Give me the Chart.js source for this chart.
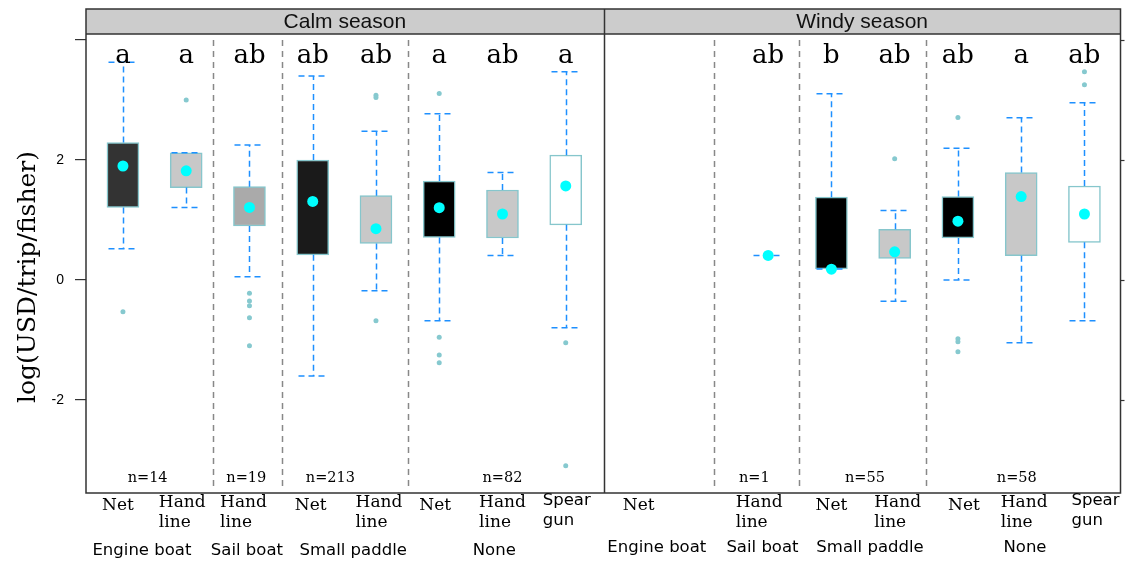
<!DOCTYPE html>
<html><head><meta charset="utf-8">
<script src="https://cdn.jsdelivr.net/npm/chart.js@4.4.1/dist/chart.umd.min.js"></script>
<style>html,body{margin:0;padding:0;background:#fff;}#wrap{width:1126px;height:562px;position:relative;}</style>
</head><body><div id="wrap"><canvas id="c" width="1126" height="562"></canvas></div>
<script>
// ---------- data ----------
const seasons = ['Calm season', 'Windy season'];
const calmGear  = ['Net','Hand\nline','Hand\nline','Net','Hand\nline','Net','Hand\nline','Spear\ngun'];
const windyGear = ['Net','','Hand\nline','Net','Hand\nline','Net','Hand\nline','Spear\ngun'];
const boatGroups = ['Engine boat','Sail boat','Small paddle','None'];
const calmLetters  = ['a','a','ab','ab','ab','a','ab','a'];
const windyLetters = ['','','ab','b','ab','ab','a','ab'];
const calmN  = ['n=14','n=19','n=213','n=82'];
const windyN = ['n=1','n=55','n=58'];

const calmQ1   = [1.21, 1.54, 0.90, 0.42, 0.61, 0.71, 0.70, 0.92];
const calmQ3   = [2.29, 2.12, 1.555, 2.00, 1.405, 1.65, 1.50, 2.08];
const calmLo   = [0.52, 1.21, 0.055, -1.60, -0.18, -0.68, 0.41, -0.795];
const calmHi   = [3.63, 2.12, 2.25, 3.40, 2.48, 2.77, 1.79, 3.47];
const calmMean = [1.90, 1.82, 1.21, 1.31, 0.855, 1.205, 1.10, 1.567];
const calmOut  = [[-0.53],[3.0],[-0.22,-0.35,-0.43,-0.63,-1.095],[],[3.04,3.08,-0.68],[3.11,-0.955,-1.25,-1.38],[],[-1.045,-3.095]];

const windyQ1   = [null, null, 0.41, 0.183, 0.36, 0.70, 0.405, 0.628];
const windyQ3   = [null, null, 0.41, 1.38, 0.845, 1.39, 1.79, 1.567];
const windyLo   = [null, null, 0.41, 0.183, -0.355, 0.0, -1.045, -0.68];
const windyHi   = [null, null, 0.41, 3.105, 1.16, 2.195, 2.705, 2.955];
const windyMean = [null, null, 0.41, 0.18, 0.47, 0.98, 1.39, 1.10];
const windyOut  = [[],[],[],[],[2.02],[2.71,-0.98,-1.03,-1.195],[],[3.47,3.255]];

const yTickValues = [-2, 0, 2, 4];
const yTickLabels = ['-2', '0', '2', ''];
const yTitle = 'log(USD/trip/fisher)';

// ---------- layout / style ----------
const calmFill  = ['#333333','#c8c8c8','#aaaaaa','#1a1a1a','#c8c8c8','#000000','#c8c8c8','#ffffff'];
const windyFill = [null,null,'#c8c8c8','#000000','#c8c8c8','#000000','#c8c8c8','#ffffff'];
const WINDY_SHIFT = 8.2, X_MIN = -0.584, X_MAX = 15.77, PANEL_SPLIT = 7.6;
const STRIP_TOP = 9;
const dividerPos = [[1.42, 2.52, 4.5], [1.14, 2.49, 4.5]];
const nPos = [[0.39, 1.95, 3.28, 6.0], [1.78, 3.53, 5.93]];
const groupPos = [[0.3, 1.96, 3.64, 5.87], [0.24, 1.91, 3.61, 6.06]];
const groupY = [551, 548];
const gearNudge = [[-5,-4,-6,-2,3,-4,0,1], [-3,0,-9,0,3,6,3,11]];

const panels = [
  {shift:0, q1:calmQ1, q3:calmQ3, lo:calmLo, hi:calmHi, mean:calmMean, out:calmOut, fill:calmFill, gear:calmGear, letters:calmLetters, n:calmN},
  {shift:WINDY_SHIFT, q1:windyQ1, q3:windyQ3, lo:windyLo, hi:windyHi, mean:windyMean, out:windyOut, fill:windyFill, gear:windyGear, letters:windyLetters, n:windyN}
];

const boxData = [], boxColors = [], meanData = [], outData = [];
panels.forEach(p => {
  p.q1.forEach((v, i) => {
    if (v === null) return;
    const x = i + p.shift;
    boxData.push({x: x, y: [p.q1[i], p.q3[i]]});
    boxColors.push(p.fill[i]);
    meanData.push({x: x, y: p.mean[i]});
  });
  p.out.forEach((arr, i) => arr.forEach(v => outData.push({x: i + p.shift, y: v})));
});

const SERIF = '"DejaVu Serif", serif';
const SANS = '"DejaVu Sans", sans-serif';

const boxPlugin = {
  id: 'boxplotDecor',
  beforeDatasetsDraw(chart) {
    const {ctx, chartArea: a, scales: {x}} = chart;
    ctx.save();
    ctx.fillStyle = '#cccccc';
    ctx.fillRect(a.left, STRIP_TOP, a.right - a.left, a.top - STRIP_TOP);
    ctx.fillStyle = '#111';
    ctx.font = '21px "Liberation Sans", Arial, sans-serif';
    ctx.textAlign = 'center'; ctx.textBaseline = 'middle';
    const split = x.getPixelForValue(PANEL_SPLIT);
    ctx.fillText(seasons[0], (a.left + split) / 2, (STRIP_TOP + a.top) / 2 + 1);
    ctx.fillText(seasons[1], (split + a.right) / 2, (STRIP_TOP + a.top) / 2 + 1);
    ctx.strokeStyle = '#888'; ctx.lineWidth = 1.5; ctx.setLineDash([6, 5]);
    panels.forEach((p, k) => dividerPos[k].forEach(d => {
      const px = Math.round(x.getPixelForValue(d + p.shift)) + 0.5;
      ctx.beginPath(); ctx.moveTo(px, a.top + 6); ctx.lineTo(px, a.bottom - 2); ctx.stroke();
    }));
    ctx.restore();
  },
  afterDatasetDraw(chart, args) {
    if (args.index !== 0) return;
    const {ctx, scales: {x, y}} = chart;
    ctx.save();
    ctx.strokeStyle = '#1e90ff'; ctx.lineWidth = 1.5; ctx.setLineDash([6, 4]);
    panels.forEach(p => p.lo.forEach((lo, i) => {
      if (lo === null) return;
      const px = Math.round(x.getPixelForValue(i + p.shift)) + 0.5;
      const yq1 = y.getPixelForValue(p.q1[i]), yq3 = y.getPixelForValue(p.q3[i]);
      const ylo = y.getPixelForValue(lo), yhi = y.getPixelForValue(p.hi[i]);
      ctx.beginPath();
      if (p.hi[i] > p.q3[i]) { ctx.moveTo(px, yq3); ctx.lineTo(px, yhi); }
      if (lo < p.q1[i]) { ctx.moveTo(px, yq1); ctx.lineTo(px, ylo); }
      ctx.stroke();
      ctx.beginPath();
      ctx.moveTo(px - 15, yhi); ctx.lineTo(px + 15, yhi);
      ctx.moveTo(px - 15, ylo); ctx.lineTo(px + 15, ylo);
      ctx.stroke();
    }));
    ctx.restore();
  },
  afterDraw(chart) {
    const {ctx, chartArea: a, scales: {x, y}} = chart;
    ctx.save();
    ctx.strokeStyle = '#333'; ctx.lineWidth = 1.5; ctx.setLineDash([]);
    const split = Math.round(x.getPixelForValue(PANEL_SPLIT)) + 0.5;
    ctx.strokeRect(a.left, STRIP_TOP, a.right - a.left, a.bottom - STRIP_TOP);
    ctx.beginPath();
    ctx.moveTo(a.left, a.top); ctx.lineTo(a.right, a.top);
    ctx.moveTo(split, STRIP_TOP); ctx.lineTo(split, a.bottom);
    ctx.stroke();
    ctx.lineWidth = 1.2;
    yTickValues.forEach(v => {
      const py = Math.round(y.getPixelForValue(v)) + 0.5;
      ctx.beginPath(); ctx.moveTo(a.right, py); ctx.lineTo(a.right + 4, py); ctx.stroke();
    });
    ctx.fillStyle = '#000';
    ctx.font = '26px ' + SERIF; ctx.textAlign = 'center'; ctx.textBaseline = 'alphabetic';
    panels.forEach(p => p.letters.forEach((t, i) => {
      if (t) ctx.fillText(t, x.getPixelForValue(i + p.shift), 63);
    }));
    ctx.font = '14.5px ' + SERIF; ctx.textBaseline = 'middle';
    panels.forEach((p, k) => p.n.forEach((t, j) => {
      ctx.fillText(t, x.getPixelForValue(nPos[k][j] + p.shift), 478);
    }));
    panels.forEach((p, k) => p.gear.forEach((t, i) => {
      if (!t) return;
      const lines = t.split('\n');
      const sans = t.indexOf('Spear') === 0;
      ctx.font = sans ? '16.5px ' + SANS : '17px ' + SERIF;
      const cx = x.getPixelForValue(i + p.shift) + gearNudge[k][i];
      if (lines.length === 1) {
        ctx.textAlign = 'center';
        ctx.fillText(lines[0], cx, 506);
      } else {
        const w = Math.max(...lines.map(l => ctx.measureText(l).width));
        ctx.textAlign = 'left';
        const y0 = sans ? 501 : 503;
        lines.forEach((l, j) => ctx.fillText(l, cx - w / 2, y0 + j * 20));
      }
    }));
    ctx.font = '16.5px ' + SANS; ctx.textAlign = 'center';
    panels.forEach((p, k) => boatGroups.forEach((g, j) => {
      ctx.fillText(g, x.getPixelForValue(groupPos[k][j] + p.shift), groupY[k]);
    }));
    ctx.translate(28, 277); ctx.rotate(-Math.PI / 2);
    ctx.font = '25px ' + SERIF; ctx.textAlign = 'center'; ctx.textBaseline = 'middle';
    ctx.fillText(yTitle, 0, 0);
    ctx.restore();
  }
};

new Chart(document.getElementById('c'), {
  type: 'bar',
  data: {
    datasets: [
      {type: 'bar', data: boxData, backgroundColor: boxColors, borderColor: '#86c6cc', borderWidth: 1.5,
       borderSkipped: false, barThickness: 32, grouped: false, order: 3},
      {type: 'scatter', data: outData, pointRadius: 2.5, pointBackgroundColor: '#86c9cf', pointBorderWidth: 0, order: 2},
      {type: 'scatter', data: meanData, pointRadius: 5.5, pointBackgroundColor: '#00ffff', pointBorderWidth: 0, order: 1}
    ]
  },
  options: {
    responsive: false, animation: false,
    layout: {padding: {top: 34, bottom: 69, right: 3, left: 0}},
    plugins: {legend: {display: false}, tooltip: {enabled: false}},
    scales: {
      x: {type: 'linear', min: X_MIN, max: X_MAX, offset: false, grid: {offset: false}, display: false},
      y: {
        type: 'linear', min: -3.55, max: 4.1,
        afterFit(s) { s.width = 86; },
        afterBuildTicks(s) { s.ticks = yTickValues.map(v => ({value: v})); },
        border: {display: false},
        grid: {drawOnChartArea: false, drawTicks: true, tickLength: 11, color: '#333', lineWidth: 1.2},
        ticks: {padding: 11, color: '#000', font: {family: '"Liberation Sans", Arial, sans-serif', size: 14},
                callback: (v) => { const i = yTickValues.indexOf(v); return i >= 0 ? yTickLabels[i] : ''; }}
      }
    }
  },
  plugins: [boxPlugin]
});
</script></body></html>
